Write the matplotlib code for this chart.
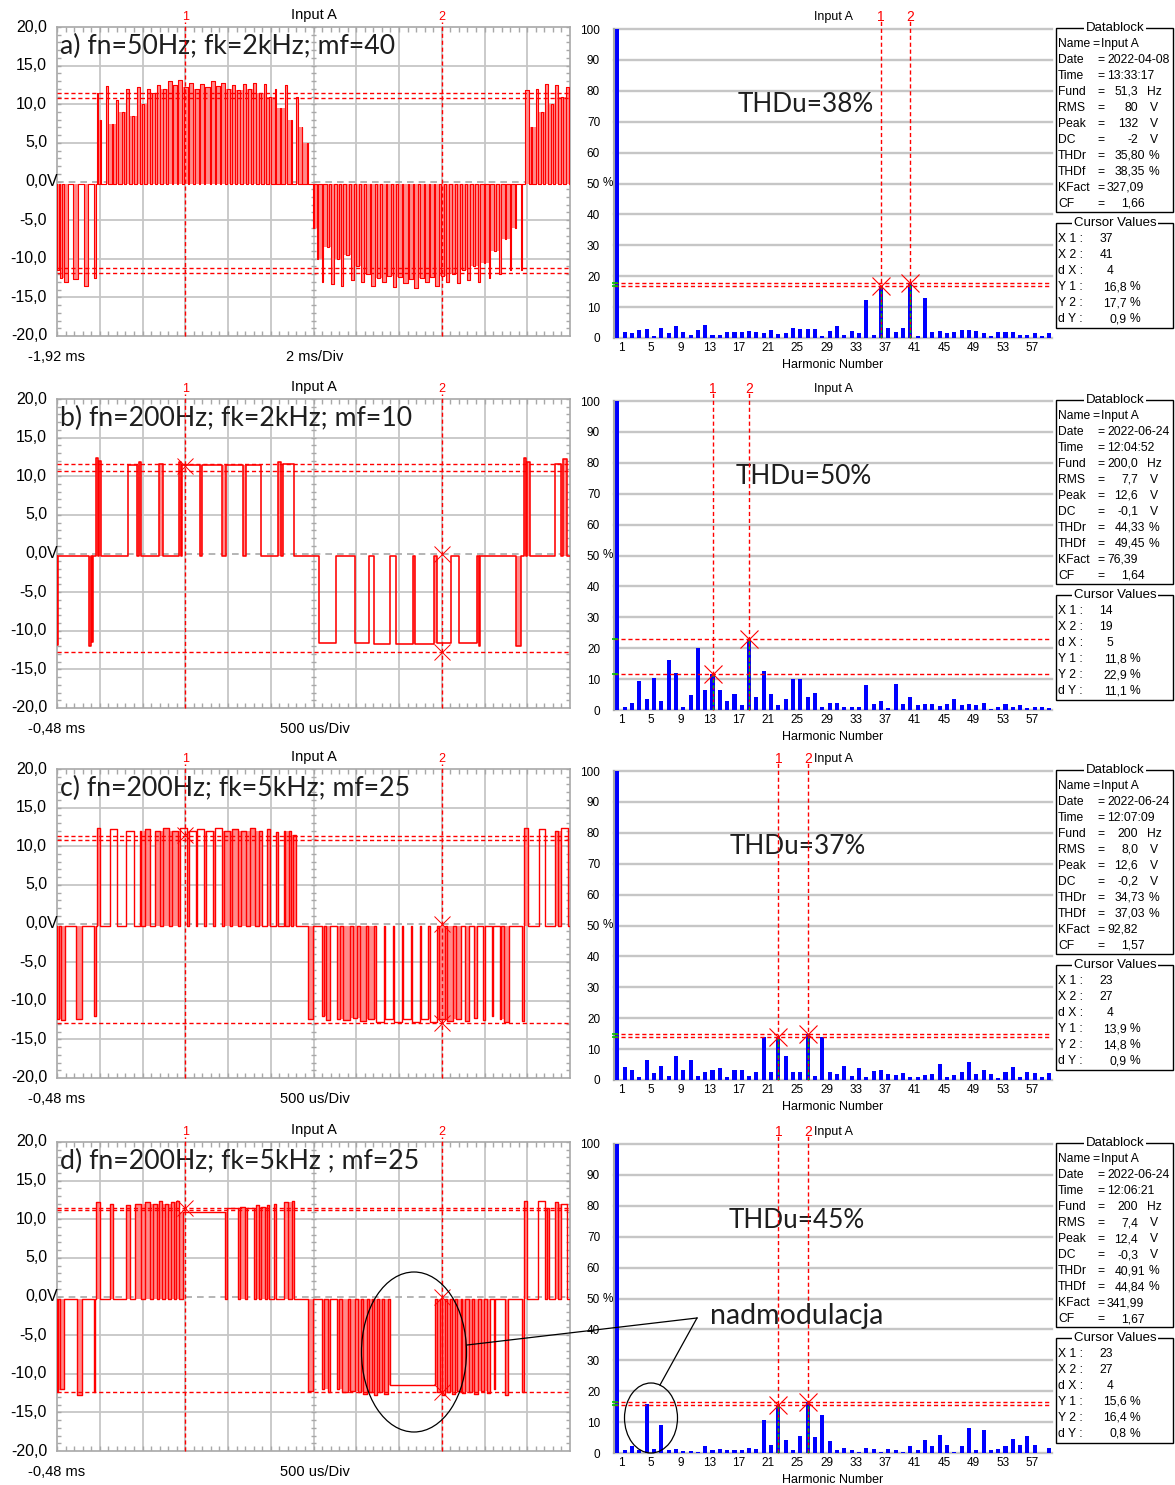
import numpy as np
import matplotlib
matplotlib.use("Agg")
import matplotlib.pyplot as plt
from matplotlib.patches import Ellipse, Rectangle
from matplotlib.collections import LineCollection

# ======================= DATA =======================
panel_labels = ["a) fn=50Hz; fk=2kHz; mf=40",
                "b) fn=200Hz; fk=2kHz; mf=10",
                "c) fn=200Hz; fk=5kHz; mf=25",
                "d) fn=200Hz; fk=5kHz ; mf=25"]
time_start = ["-1,92 ms", "-0,48 ms", "-0,48 ms", "-0,48 ms"]
time_div = ["2 ms/Div", "500 us/Div", "500 us/Div", "500 us/Div"]
thdu = ["THDu=38%", "THDu=50%", "THDu=37%", "THDu=45%"]
volt_ticks = [20, 15, 10, 5, 0, -5, -10, -15, -20]
pct_ticks = [0, 10, 20, 30, 40, 50, 60, 70, 80, 90, 100]
harm_tick_labels = [1, 5, 9, 13, 17, 21, 25, 29, 33, 37, 41, 45, 49, 53, 57]

# Oscilloscope traces: pulses (start [div], end [div], level [V]) read from the screens
wave_a = [
    (0.00, 0.04, -11.5), (0.08, 0.11, -12.5), (0.16, 0.26, -13.0), (0.38, 0.48, -12.6),
    (0.62, 0.72, -13.5), (0.86, 0.92, -12.5),
    (0.93, 0.97, 11.5), (1.00, 1.03, 8.0), (1.14, 1.19, 12.4), (1.28, 1.31, 7.5),
    (1.38, 1.43, 10.5), (1.52, 1.56, 9.0), (1.62, 1.68, 12.0), (1.75, 1.80, 8.5),
    (1.86, 1.93, 12.2), (1.98, 2.04, 10.0), (2.10, 2.17, 12.0), (2.22, 2.30, 11.5),
    (2.34, 2.42, 12.5), (2.47, 2.55, 12.0), (2.59, 2.68, 13.0), (2.72, 2.80, 12.5),
    (2.84, 2.93, 13.2), (2.97, 3.06, 12.2), (3.09, 3.19, 12.8), (3.22, 3.31, 12.0),
    (3.34, 3.44, 12.6), (3.47, 3.57, 12.2), (3.60, 3.69, 13.0), (3.72, 3.81, 12.3),
    (3.84, 3.93, 12.8), (3.97, 4.05, 12.0), (4.09, 4.17, 12.5), (4.22, 4.29, 11.8),
    (4.34, 4.41, 12.6), (4.47, 4.53, 12.0), (4.59, 4.65, 12.7), (4.72, 4.77, 11.5),
    (4.84, 4.89, 12.6), (4.97, 5.01, 11.0), (5.09, 5.13, 12.0), (5.22, 5.25, 9.5),
    (5.34, 5.38, 12.5), (5.47, 5.49, 8.0), (5.60, 5.63, 11.0), (5.72, 5.74, 7.0),
    (5.84, 5.86, 5.0),
    (5.98, 6.01, -6.0), (6.08, 6.11, -10.0), (6.20, 6.23, -13.0), (6.32, 6.36, -8.5),
    (6.42, 6.47, -13.3), (6.55, 6.59, -10.0), (6.64, 6.70, -13.5), (6.77, 6.82, -9.5),
    (6.88, 6.95, -12.8), (7.00, 7.06, -11.0), (7.11, 7.18, -13.0), (7.23, 7.31, -12.0),
    (7.35, 7.43, -13.5), (7.48, 7.56, -12.5), (7.60, 7.69, -13.0), (7.73, 7.81, -12.2),
    (7.85, 7.94, -13.6), (7.98, 8.07, -12.4), (8.10, 8.20, -13.2), (8.23, 8.32, -12.6),
    (8.35, 8.45, -13.8), (8.48, 8.58, -12.5), (8.61, 8.70, -13.0), (8.73, 8.82, -12.3),
    (8.85, 8.94, -13.5), (8.98, 9.06, -12.2), (9.10, 9.18, -13.0), (9.23, 9.30, -12.0),
    (9.35, 9.42, -13.2), (9.48, 9.54, -11.5), (9.60, 9.66, -12.8), (9.73, 9.78, -11.0),
    (9.85, 9.90, -13.0), (9.98, 10.02, -10.5), (10.10, 10.14, -12.5), (10.23, 10.26, -9.0),
    (10.35, 10.39, -12.0), (10.48, 10.50, -7.5), (10.60, 10.63, -11.5), (10.72, 10.74, -6.0),
    (10.85, 10.87, -11.5),
    (10.95, 11.03, 11.8), (11.08, 11.10, 7.0), (11.20, 11.26, 12.0), (11.32, 11.36, 9.0),
    (11.42, 11.49, 12.6), (11.55, 11.60, 10.0), (11.66, 11.73, 12.5), (11.79, 11.84, 11.0),
    (11.90, 11.97, 12.2),
]
wave_b = [
    (0.00, 0.03, -11.8), (0.76, 0.80, -12.0), (0.81, 0.85, -11.5),
    (0.92, 0.97, 12.3), (0.99, 1.04, 12.0), (1.67, 1.88, 11.5), (1.91, 1.97, 11.8),
    (2.38, 2.48, 11.6), (2.86, 2.89, 11.8), (2.92, 3.35, 11.4), (3.39, 3.87, 11.4),
    (3.96, 4.34, 11.4), (4.43, 4.78, 11.4), (5.18, 5.25, 11.8), (5.28, 5.54, 11.6),
    (6.13, 6.53, -11.6), (6.96, 7.30, -11.6), (7.41, 7.78, -11.7), (7.94, 8.33, -11.7),
    (8.37, 8.82, -11.7), (8.88, 9.22, -11.6), (9.41, 9.83, -11.6), (9.86, 9.90, -12.0),
    (10.74, 10.86, -12.0),
    (10.92, 10.97, 12.3), (11.00, 11.06, 11.8), (11.65, 11.80, 11.6), (11.84, 11.93, 12.2),
]
wave_c = [
    (0.00, 0.05, -12.3), (0.09, 0.19, -12.5), (0.45, 0.58, -12.4), (0.87, 0.92, -12.0),
    (0.93, 1.01, 12.3), (1.23, 1.40, 12.2), (1.62, 1.79, 12.0), (1.93, 1.97, 12.0),
    (2.05, 2.18, 12.2), (2.30, 2.40, 12.0), (2.47, 2.62, 12.3), (2.68, 2.82, 12.0),
    (2.88, 3.04, 12.4), (3.08, 3.25, 12.0), (3.28, 3.45, 12.2), (3.49, 3.66, 12.0),
    (3.70, 3.86, 12.3), (3.90, 4.05, 12.0), (4.10, 4.24, 12.2), (4.31, 4.43, 12.0),
    (4.51, 4.62, 12.3), (4.72, 4.80, 12.0), (4.92, 4.98, 12.2), (5.12, 5.16, 11.8),
    (5.30, 5.34, 12.0), (5.42, 5.47, 12.0), (5.52, 5.58, 11.5),
    (5.86, 5.99, -12.3), (6.20, 6.24, -12.0), (6.30, 6.38, -12.5), (6.55, 6.62, -12.3),
    (6.70, 6.85, -12.5), (6.92, 7.02, -12.2), (7.08, 7.22, -12.6), (7.28, 7.42, -12.3),
    (7.47, 7.64, -12.7), (7.68, 7.85, -12.4), (7.89, 8.06, -12.8), (8.10, 8.27, -12.4),
    (8.31, 8.48, -12.7), (8.52, 8.68, -12.4), (8.72, 8.88, -12.8), (8.93, 9.07, -12.4),
    (9.13, 9.26, -12.6), (9.34, 9.45, -12.3), (9.55, 9.63, -12.6), (9.76, 9.82, -12.2),
    (9.96, 10.00, -12.5), (10.17, 10.20, -12.0), (10.36, 10.38, -12.3), (10.46, 10.57, -12.8),
    (10.88, 10.92, -12.6),
    (10.93, 11.01, 12.4), (11.27, 11.42, 12.2), (11.66, 11.72, 12.0), (11.78, 11.95, 12.3),
]
wave_d = [
    (0.00, 0.03, -12.3), (0.08, 0.17, -12.0), (0.47, 0.58, -12.8), (0.86, 0.90, -12.3),
    (0.92, 1.01, 12.2), (1.23, 1.31, 12.0), (1.62, 1.70, 11.8), (1.83, 1.97, 12.0),
    (2.05, 2.18, 12.2), (2.25, 2.33, 12.0), (2.38, 2.46, 12.3), (2.52, 2.60, 12.0),
    (2.66, 2.74, 12.2), (2.78, 2.86, 12.4), (2.95, 3.93, 11.0), (3.97, 4.24, 11.5),
    (4.29, 4.40, 11.6), (4.44, 4.60, 11.5), (4.66, 4.72, 11.8), (4.78, 4.86, 11.6),
    (4.92, 4.96, 11.8), (5.08, 5.12, 12.0), (5.30, 5.40, 12.2), (5.49, 5.55, 12.3),
    (5.88, 5.98, -12.2), (6.20, 6.24, -12.0), (6.33, 6.38, -12.3), (6.55, 6.60, -12.0),
    (6.66, 6.80, -12.4), (6.86, 6.98, -12.2), (7.05, 7.12, -12.3), (7.16, 7.25, -12.6),
    (7.29, 7.37, -12.4), (7.41, 7.49, -12.8), (7.53, 7.61, -12.4), (7.65, 7.74, -12.6),
    (7.78, 8.84, -11.4), (8.88, 8.96, -12.4), (9.00, 9.08, -12.7), (9.12, 9.20, -12.3),
    (9.24, 9.32, -12.6), (9.36, 9.44, -12.2), (9.48, 9.55, -12.5), (9.64, 9.70, -12.3),
    (9.76, 9.84, -12.6), (9.92, 9.98, -12.2), (10.06, 10.12, -12.5), (10.22, 10.25, -12.0),
    (10.48, 10.56, -12.8), (10.88, 10.92, -12.3),
    (10.92, 11.00, 12.4), (11.26, 11.42, 12.3), (11.46, 11.50, 11.5), (11.64, 11.72, 12.2),
    (11.78, 11.94, 12.0),
]
waves = [wave_a, wave_b, wave_c, wave_d]

# scope cursor levels [V] and cursor marks (div, V)
scope_hlines = [[11.4, 10.75, -11.2, -11.85], [11.55, 10.7, -12.8], [11.3, 10.75, -12.9], [11.45, 11.25, -12.3]]
scope_marks = [[], [(3, 11.3), (9, 0.0), (9, -12.8)], [(3, 11.4), (9, 0.0), (9, -12.9)],
               [(3, 11.4), (9, 0.0), (9, -12.3)]]

# Harmonic spectra [% of fundamental], harmonics 1..60
harmonics = list(range(1, 61))
spec_a = [100, 2.0, 1.6, 2.5, 2.9, 0.5, 3.2, 1.6, 3.8, 2.0,
          1.1, 2.7, 4.2, 1.1, 1.1, 1.9, 1.9, 1.9, 2.4, 1.9,
          1.6, 2.7, 1.3, 1.6, 3.2, 2.9, 2.9, 2.9, 0.5, 2.4,
          3.8, 1.1, 2.4, 1.6, 12.4, 1.1, 16.8, 3.2, 1.9, 3.2,
          17.7, 0.5, 12.9, 1.9, 2.4, 1.6, 1.9, 2.7, 2.7, 2.4,
          1.6, 0.5, 1.9, 1.9, 1.9, 1.1, 1.1, 1.6, 0.5, 1.6]
spec_b = [100, 1.1, 2.4, 9.4, 3.5, 10.2, 2.9, 16.2, 11.9, 1.1,
          4.7, 20.0, 6.5, 11.8, 6.5, 2.9, 5.1, 1.6, 22.9, 4.3,
          12.6, 5.3, 1.6, 3.5, 9.9, 10.1, 4.2, 5.6, 1.1, 2.4,
          2.4, 1.1, 1.1, 1.1, 8.0, 2.0, 2.9, 0.5, 8.5, 2.0,
          4.2, 1.6, 2.0, 2.0, 1.3, 2.0, 3.5, 1.6, 2.0, 1.6,
          2.4, 0.2, 1.1, 2.0, 1.1, 1.6, 0.5, 1.1, 1.1, 0.5]
spec_c = [100, 4.1, 3.2, 1.1, 6.5, 2.2, 4.6, 1.4, 7.9, 3.2,
          6.5, 1.4, 2.7, 3.2, 3.8, 1.1, 3.2, 3.2, 1.4, 2.7,
          13.8, 2.7, 13.9, 7.9, 2.7, 2.7, 14.8, 1.4, 13.8, 2.7,
          1.9, 4.6, 1.4, 3.8, 1.1, 3.0, 3.2, 1.9, 1.6, 2.4,
          1.1, 1.1, 1.6, 1.9, 5.1, 1.1, 1.6, 2.7, 5.7, 1.9,
          3.2, 1.9, 0.5, 2.7, 4.3, 1.1, 2.7, 2.2, 1.1, 2.2]
spec_d = [100, 0.9, 2.2, 0.9, 15.7, 1.2, 9.2, 0.9, 1.4, 0.6,
          0.6, 0.3, 2.2, 0.9, 1.2, 0.9, 0.9, 0.9, 1.7, 1.2,
          10.6, 2.7, 15.6, 4.1, 0.9, 5.5, 16.4, 5.2, 12.4, 3.8,
          0.9, 1.7, 0.9, 0.3, 1.7, 1.2, 0.3, 1.2, 0.9, 0.3,
          2.2, 0.9, 4.1, 2.2, 5.9, 2.7, 0.3, 2.2, 8.2, 0.9,
          7.6, 0.9, 1.2, 2.2, 4.4, 2.7, 5.4, 2.7, 0.0, 1.7]
spectra = [spec_a, spec_b, spec_c, spec_d]

# Datablock / cursor values
db_date = ["2022-04-08", "2022-06-24", "2022-06-24", "2022-06-24"]
db_time = ["13:33:17", "12:04:52", "12:07:09", "12:06:21"]
db_fund = ["51,3", "200,0", "200", "200"]
db_rms = ["80", "7,7", "8,0", "7,4"]
db_peak = ["132", "12,6", "12,6", "12,4"]
db_dc = ["-2", "-0,1", "-0,2", "-0,3"]
db_thdr = ["35,80", "44,33", "34,73", "40,91"]
db_thdf = ["38,35", "49,45", "37,03", "44,84"]
db_kfact = ["327,09", "76,39", "92,82", "341,99"]
db_cf = ["1,66", "1,64", "1,57", "1,67"]
cur_x1 = [37, 14, 23, 23]
cur_x2 = [41, 19, 27, 27]
cur_y1 = [16.8, 11.8, 13.9, 15.6]
cur_y2 = [17.7, 22.9, 14.8, 16.4]

# ======================= STYLE / LAYOUT =======================
W, H = 1175, 1485
FONT = "Liberation Sans"
BIG = "Lato"
RED = "#ff0000"
PINK = "#ff8a8a"
GRID = "#c6c6c6"
BLUE = "#0000ff"
GREEN = "#00c400"
TXT = "#1e1e1e"
row_top = [29, 401, 771, 1144]
thdu_x = [738, 736, 730, 729]
trace_lw = [0.8, 1.15, 1.0, 1.0]
LX0, LX1 = 57, 570
SX0, SX1 = 614, 1052
NFS = 8.7

plt.rcParams["font.family"] = [FONT, "DejaVu Sans"]
fig = plt.figure(figsize=(W / 100, H / 100), dpi=100)
fig.patch.set_facecolor("white")


def px_axes(x0, y0, x1, y1):
    return fig.add_axes([x0 / W, 1 - y1 / H, (x1 - x0) / W, (y1 - y0) / H])


ov = fig.add_axes([0, 0, 1, 1])
ov.set_xlim(0, W)
ov.set_ylim(H, 0)
ov.axis("off")
ov.set_zorder(20)

DASH = (0, (3, 2))


def draw_scope(ax, pulses, hls, marks, lw):
    ax.set_xlim(0, 12)
    ax.set_ylim(-20, 20)
    ax.set_xticks([])
    ax.set_yticks([])
    for s in ax.spines.values():
        s.set_color("#a8a8a8")
        s.set_linewidth(1.2)
    for x in range(1, 12):
        ax.axvline(x, color=GRID, lw=1.3, zorder=1)
    for y in (-15, -10, -5, 5, 10, 15):
        ax.axhline(y, color=GRID, lw=1.3, zorder=1)
    ax.axhline(0, color="#a8a8a8", lw=1.2, ls=(0, (4, 3)), zorder=1)
    segs = []
    for y in np.arange(-20, 20.01, 1.0):
        segs += [[(0, y), (0.09, y)], [(11.91, y), (12, y)], [(5.94, y), (6.06, y)]]
    for x in np.arange(0, 12.01, 0.2):
        segs += [[(x, 20), (x, 19.4)], [(x, -20), (x, -19.4)]]
    ax.add_collection(LineCollection(segs, colors="#a8a8a8", linewidths=1.0, zorder=1))

    base = -0.3
    ps = sorted(pulses)
    xs, ys = [0.0], [base]
    for s, e, v in ps:
        xs += [s, s, e, e]
        ys += [base, v, v, base]
    xs.append(12.0)
    ys.append(base)
    thr = 0.15
    for i, (s, e, v) in enumerate(ps):
        if e - s < thr:
            ax.fill_between([s, e], base, v, color=PINK, lw=0, zorder=2)
        if i + 1 < len(ps):
            s2, e2, v2 = ps[i + 1]
            if np.sign(v2) == np.sign(v) and 0 < s2 - e < 0.1:
                lvl = np.sign(v) * min(abs(v), abs(v2))
                ax.fill_between([e, s2], base, lvl, color=PINK, lw=0, zorder=2)
    ax.plot(xs, ys, color=RED, lw=lw, zorder=3)

    for y in hls:
        ax.axhline(y, color=RED, lw=1.0, ls=DASH, zorder=4)
    for cx, lab in ((3, "1"), (9, "2")):
        ax.plot([cx, cx], [-20, 20.6], color=RED, lw=1.0, ls=DASH, zorder=4, clip_on=False)
        ax.text(cx, 21.3, lab, color=RED, fontsize=9, ha="center", va="center")
    for (mx, my) in marks:
        ax.plot(mx, my, marker="x", color=RED, ms=11, mew=0.7, zorder=5)
    ax.text(6.0, 21.6, "Input A", fontsize=10.5, ha="center", va="center", color="black")


def draw_spec(ax, vals, x1, x2, y1, y2):
    ax.set_xlim(0.55, 60.35)
    ax.set_ylim(0, 100)
    for s in ("top", "right", "bottom"):
        ax.spines[s].set_visible(False)
    ax.spines["left"].set_color("#a8a8a8")
    ax.spines["left"].set_linewidth(1.5)
    for v in pct_ticks:
        ax.axhline(v, color=GRID, lw=1.7, zorder=1, clip_on=False)
    ax.bar(harmonics, vals, width=0.55, color=BLUE, zorder=2)
    ax.set_yticks(pct_ticks)
    ax.set_yticklabels([str(v) for v in pct_ticks])
    ax.set_xticks([h + 0.6 for h in harm_tick_labels])
    ax.set_xticklabels([str(h) for h in harm_tick_labels])
    ax.tick_params(axis="y", length=0, pad=10, labelsize=8.5)
    ax.tick_params(axis="x", length=0, pad=3, labelsize=8.5)
    ax.text(-0.35, 50, "%", fontsize=8.5, ha="center", va="center", clip_on=False)
    for X, Y, lab in ((x1, y1, "1"), (x2, y2, "2")):
        ax.plot([X, X], [0, 102.5], color=RED, lw=1.0, ls=DASH, zorder=4, clip_on=False)
        ax.plot([X, X], [0, Y], color=GREEN, lw=1.0, ls=(0, (2, 2)), zorder=4)
        ax.axhline(Y, color=RED, lw=1.0, ls=DASH, zorder=4)
        ax.plot(X, Y, marker="x", color=RED, ms=13, mew=0.8, zorder=5)
        ax.plot(0.7, Y, marker="_", color=GREEN, ms=5, mew=1.2, zorder=5, clip_on=False)
        ax.text(X, 103.8, lab, color=RED, fontsize=10, ha="center", va="center")
    ax.text(30.45, 103.8, "Input A", fontsize=9, ha="center", va="center", color="black")
    ax.text(30.45, -8.6, "Harmonic Number", fontsize=9, ha="center", va="center", clip_on=False)


def dtext(x, y, s, ha="left"):
    ov.text(x, y, s, fontsize=NFS, va="center", ha=ha)


for i in range(4):
    rt = row_top[i]
    lt, lb = rt - 2, rt + 307
    axl = px_axes(LX0, lt, LX1, lb)
    draw_scope(axl, waves[i], scope_hlines[i], scope_marks[i], trace_lw[i])
    axl.text(60, rt + 17, panel_labels[i], transform=ov.transData, fontsize=19.2, family=BIG,
             color=TXT, ha="left", va="center", zorder=3.5, clip_on=False)
    for v in volt_ticks:
        ypx = lt + (20 - v) / 40 * (lb - lt)
        ov.text(47, ypx, f"{v},0", fontsize=11.5, ha="right", va="center")
        if v == 0:
            ov.text(47, ypx, "V", fontsize=11.5, ha="left", va="center")
    ov.text(57, rt + 328, time_start[i], fontsize=10.5, ha="center", va="center")
    ov.text(315, rt + 328, time_div[i], fontsize=10.5, ha="center", va="center")

    axs = px_axes(SX0, rt, SX1, rt + 309)
    draw_spec(axs, spectra[i], cur_x1[i], cur_x2[i], cur_y1[i], cur_y2[i])
    axs.text(thdu_x[i], rt + 76, thdu[i], transform=ov.transData, fontsize=18.8, family=BIG,
             color=TXT, ha="left", va="center", zorder=3.5, clip_on=False)

    # Datablock
    bx0, bx1 = 1056, 1173
    ov.add_patch(Rectangle((bx0, rt - 1), bx1 - bx0, 184, fill=False, ec="black", lw=1.0))
    ov.text(1115, rt - 1, "Datablock", fontsize=9.5, ha="center", va="center",
            bbox=dict(fc="white", ec="none", pad=1.0))
    y = [rt + 15 + 16 * k for k in range(11)]
    dtext(1058, y[0], "Name")
    dtext(1092, y[0], "=")
    dtext(1101, y[0], "Input A")
    rows_txt = [("Date", db_date[i], None, "left"), ("Time", db_time[i], None, "left"),
                ("Fund", db_fund[i], "Hz", "right"), ("RMS", db_rms[i], "V", "right"),
                ("Peak", db_peak[i], "V", "right"), ("DC", db_dc[i], "V", "right"),
                ("THDr", db_thdr[i], "%", "right2"), ("THDf", db_thdf[i], "%", "right2"),
                ("KFact", db_kfact[i], None, "left"), ("CF", db_cf[i], None, "right2")]
    for k, (key, val, unit, al) in enumerate(rows_txt):
        yy = y[k + 1]
        dtext(1058, yy, key)
        dtext(1097, yy, "=")
        if al == "left":
            dtext(1107, yy, val)
        elif al == "right":
            dtext(1138, yy, val, ha="right")
        else:
            dtext(1145, yy, val, ha="right")
        if unit == "Hz":
            dtext(1147, yy, unit)
        elif unit == "V":
            dtext(1150, yy, unit)
        elif unit == "%":
            dtext(1149, yy, unit)

    # Cursor values
    ov.add_patch(Rectangle((bx0, rt + 194), bx1 - bx0, 105, fill=False, ec="black", lw=1.0))
    ov.text(1115, rt + 194, "Cursor Values", fontsize=9.5, ha="center", va="center",
            bbox=dict(fc="white", ec="none", pad=1.0))
    yc = [rt + 210 + 16 * k for k in range(6)]
    dx = cur_x2[i] - cur_x1[i]
    dy = cur_y2[i] - cur_y1[i]
    crows = [("X 1 :", str(cur_x1[i]), None), ("X 2 :", str(cur_x2[i]), None),
             ("d X :", str(dx), None),
             ("Y 1 :", f"{cur_y1[i]:.1f}".replace(".", ","), "%"),
             ("Y 2 :", f"{cur_y2[i]:.1f}".replace(".", ","), "%"),
             ("d Y :", f"{dy:.1f}".replace(".", ","), "%")]
    for k, (key, val, unit) in enumerate(crows):
        dtext(1058, yc[k], key)
        if unit is None:
            dtext(1113, yc[k], val, ha="right")
        else:
            dtext(1127, yc[k], val, ha="right")
            dtext(1130, yc[k], unit)

# "nadmodulacja" annotation (row d)
ov.add_patch(Ellipse((414, 1352), 105, 160, fill=False, ec="black", lw=0.9))
ov.add_patch(Ellipse((651, 1418), 53, 70, fill=False, ec="black", lw=0.9))
ov.plot([467, 697], [1345, 1318], color="black", lw=0.9)
ov.plot([697, 660], [1318, 1385], color="black", lw=0.9)
ov.text(710, 1316, "nadmodulacja", fontsize=20.5, family=BIG, color=TXT, ha="left", va="center")

fig.savefig("out.png", dpi=100, facecolor="white")
